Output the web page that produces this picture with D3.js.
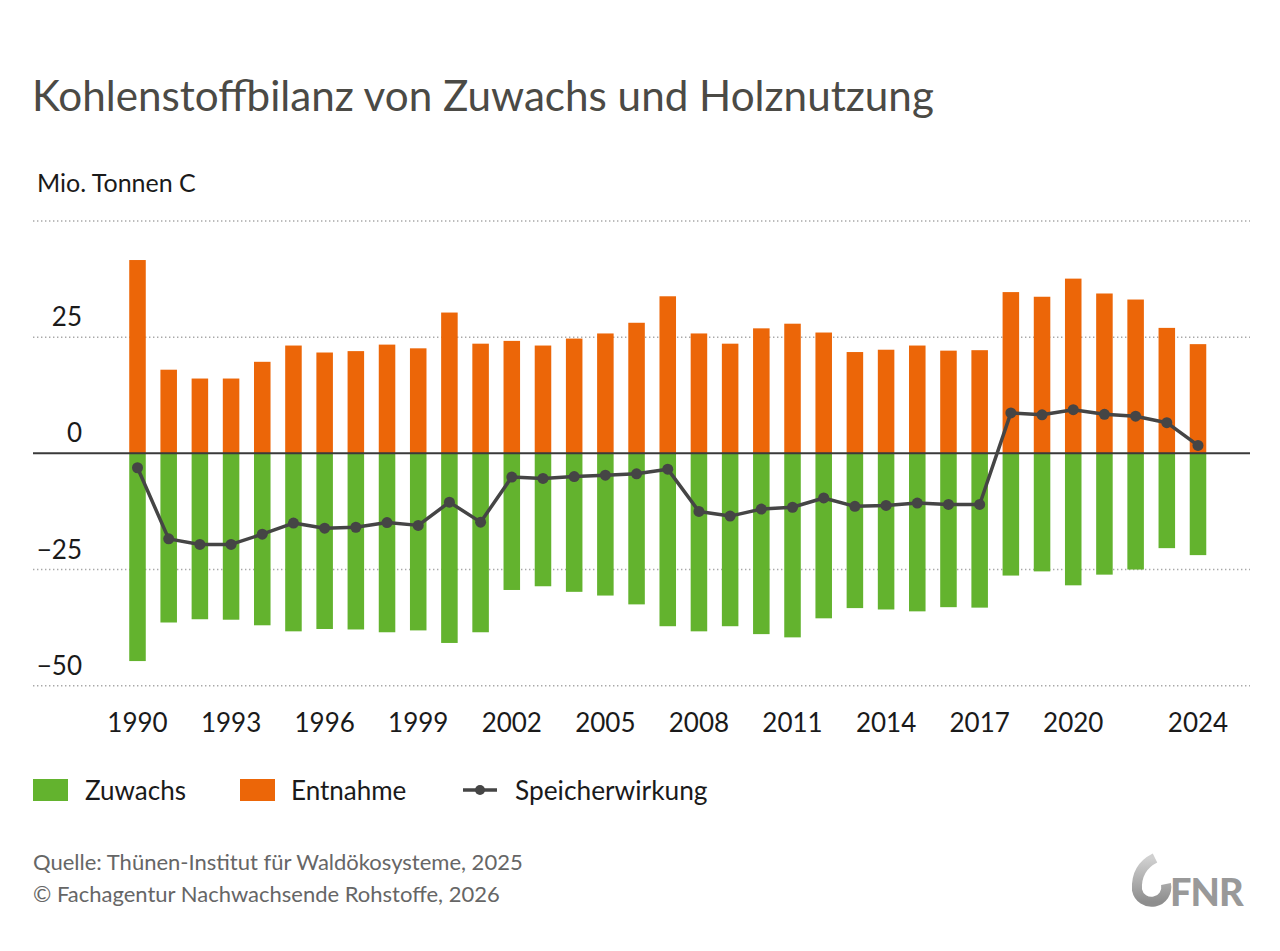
<!DOCTYPE html>
<html>
<head>
<meta charset="utf-8">
<script src="https://cdn.jsdelivr.net/npm/d3@7/dist/d3.min.js"></script>
<style>
  html, body { margin: 0; padding: 0; background: #fff; }
  svg { display: block; }
  text { font-family: Lato, "Open Sans", sans-serif; }
</style>
</head>
<body>
<svg id="chart" width="1280" height="951"></svg>
<script>
const years = [1990,1991,1992,1993,1994,1995,1996,1997,1998,1999,2000,2001,2002,2003,2004,2005,2006,2007,2008,2009,2010,2011,2012,2013,2014,2015,2016,2017,2018,2019,2020,2021,2022,2023,2024];
const entnahme = [41.6,18.0,16.1,16.1,19.7,23.2,21.7,22.0,23.4,22.6,30.3,23.6,24.2,23.2,24.7,25.8,28.1,33.8,25.8,23.6,26.9,27.9,26.0,21.8,22.3,23.2,22.1,22.2,34.7,33.7,37.6,34.4,33.1,27.0,23.5];
const zuwachs = [-44.7,-36.4,-35.7,-35.8,-37.0,-38.3,-37.8,-37.9,-38.5,-38.1,-40.8,-38.5,-29.4,-28.6,-29.8,-30.6,-32.5,-37.2,-38.3,-37.2,-38.9,-39.6,-35.5,-33.3,-33.6,-34.0,-33.1,-33.2,-26.3,-25.4,-28.4,-26.1,-25.0,-20.4,-21.9];
const speicherwirkung = [-3.1,-18.4,-19.6,-19.6,-17.4,-15.0,-16.1,-15.9,-14.9,-15.5,-10.5,-14.8,-5.1,-5.4,-5.0,-4.7,-4.4,-3.4,-12.5,-13.5,-12.0,-11.6,-9.6,-11.4,-11.2,-10.7,-11.0,-11.0,8.7,8.3,9.4,8.4,8.0,6.6,1.7];
const xTickYears = [1990,1993,1996,1999,2002,2005,2008,2011,2014,2017,2020,2024];
const yGridValues = [50,25,0,-25,-50];
const yLabelValues = [25,0,-25,-50];
const legendLabels = ["Zuwachs","Entnahme","Speicherwirkung"];
const titleText = "Kohlenstoffbilanz von Zuwachs und Holznutzung";
const unitText = "Mio. Tonnen C";
const sourceLines = ["Quelle: Thünen-Institut für Waldökosysteme, 2025","© Fachagentur Nachwachsende Rohstoffe, 2026"];

const COL_GREEN = "#63b32e";
const COL_ORANGE = "#ec6608";
const COL_LINE = "#454545";

const svg = d3.select("#chart");

const x = d3.scalePoint().domain(years).range([137.5, 1198]);
const step = x.step();
const barW = step * 0.53;
const y = d3.scaleLinear().domain([-50, 50]).range([685.7, 221]);

// Title
svg.append("text").attr("x", 32).attr("y", 111)
  .attr("font-size", 42.2).attr("fill", "#4b4a45").text(titleText);
svg.append("text").attr("x", 37).attr("y", 192)
  .attr("font-size", 25).attr("fill", "#1a1a1a").text(unitText);

// Gridlines
const grid = svg.append("g");
grid.selectAll("line").data(yGridValues.filter(v => v !== 0)).join("line")
  .attr("x1", 33).attr("x2", 1250)
  .attr("y1", d => y(d)).attr("y2", d => y(d))
  .attr("stroke", "#a8a8a8").attr("stroke-width", 1.4)
  .attr("stroke-dasharray", "1.4,2.6");

// Y labels
svg.append("g").selectAll("text").data(yLabelValues).join("text")
  .attr("x", 82).attr("y", d => y(d) - 11)
  .attr("text-anchor", "end").attr("font-size", 26).attr("fill", "#1a1a1a")
  .text(d => d < 0 ? "\u2212" + Math.abs(d) : String(d));

// Bars
const bars = svg.append("g");
bars.selectAll("rect.ent").data(years).join("rect").attr("class", "ent")
  .attr("x", d => x(d) - barW / 2).attr("width", barW)
  .attr("y", (d, i) => y(entnahme[i])).attr("height", (d, i) => y(0) - y(entnahme[i]))
  .attr("fill", COL_ORANGE);
bars.selectAll("rect.zu").data(years).join("rect").attr("class", "zu")
  .attr("x", d => x(d) - barW / 2).attr("width", barW)
  .attr("y", y(0)).attr("height", (d, i) => y(zuwachs[i]) - y(0))
  .attr("fill", COL_GREEN);

// Zero line
svg.append("line").attr("x1", 33).attr("x2", 1250).attr("y1", y(0)).attr("y2", y(0))
  .attr("stroke", "#3a3a3a").attr("stroke-width", 2);

// Line
const line = d3.line().x((d, i) => x(years[i])).y(d => y(d));
svg.append("path").datum(speicherwirkung).attr("d", line)
  .attr("fill", "none").attr("stroke", COL_LINE).attr("stroke-width", 3.5)
  .attr("stroke-linejoin", "round");
svg.append("g").selectAll("circle").data(speicherwirkung).join("circle")
  .attr("cx", (d, i) => x(years[i])).attr("cy", d => y(d)).attr("r", 5.5)
  .attr("fill", COL_LINE);

// X axis labels
svg.append("g").selectAll("text").data(xTickYears).join("text")
  .attr("x", d => x(d)).attr("y", 732)
  .attr("text-anchor", "middle").attr("font-size", 26).attr("fill", "#1a1a1a")
  .text(d => d);

// Legend
const lg = svg.append("g");
lg.append("rect").attr("x", 33).attr("y", 779).attr("width", 35).attr("height", 22).attr("fill", COL_GREEN);
lg.append("text").attr("x", 85).attr("y", 800).attr("font-size", 26).attr("fill", "#1a1a1a").text(legendLabels[0]);
lg.append("rect").attr("x", 240).attr("y", 779).attr("width", 35).attr("height", 22).attr("fill", COL_ORANGE);
lg.append("text").attr("x", 291).attr("y", 800).attr("font-size", 26).attr("fill", "#1a1a1a").text(legendLabels[1]);
lg.append("line").attr("x1", 463).attr("x2", 497).attr("y1", 790).attr("y2", 790)
  .attr("stroke", COL_LINE).attr("stroke-width", 3.5);
lg.append("circle").attr("cx", 480).attr("cy", 790).attr("r", 5).attr("fill", COL_LINE);
lg.append("text").attr("x", 515).attr("y", 800).attr("font-size", 26.3).attr("fill", "#1a1a1a").text(legendLabels[2]);

// Source
svg.append("g").selectAll("text").data(sourceLines).join("text")
  .attr("x", 33).attr("y", (d, i) => 870 + i * 32)
  .attr("font-size", 22).attr("fill", "#666").text(d => d);

// FNR logo
const defs = svg.append("defs");
const grad = defs.append("linearGradient").attr("id", "lg1").attr("x1", "0").attr("y1", "0").attr("x2", "0").attr("y2", "1");
grad.append("stop").attr("offset", "0").attr("stop-color", "#d0d0d0");
grad.append("stop").attr("offset", "1").attr("stop-color", "#8e8e8e");
svg.append("path")
  .attr("d", "M 1166 884 A 14.5 14.5 0 1 1 1137 890 C 1136 874 1143 864 1155 858")
  .attr("fill", "none").attr("stroke", "url(#lg1)").attr("stroke-width", 10);
svg.append("text").attr("x", 1170).attr("y", 906).attr("font-size", 38)
  .attr("font-weight", 900).attr("fill", "#999").attr("letter-spacing", -1).text("FNR");
</script>
</body>
</html>
